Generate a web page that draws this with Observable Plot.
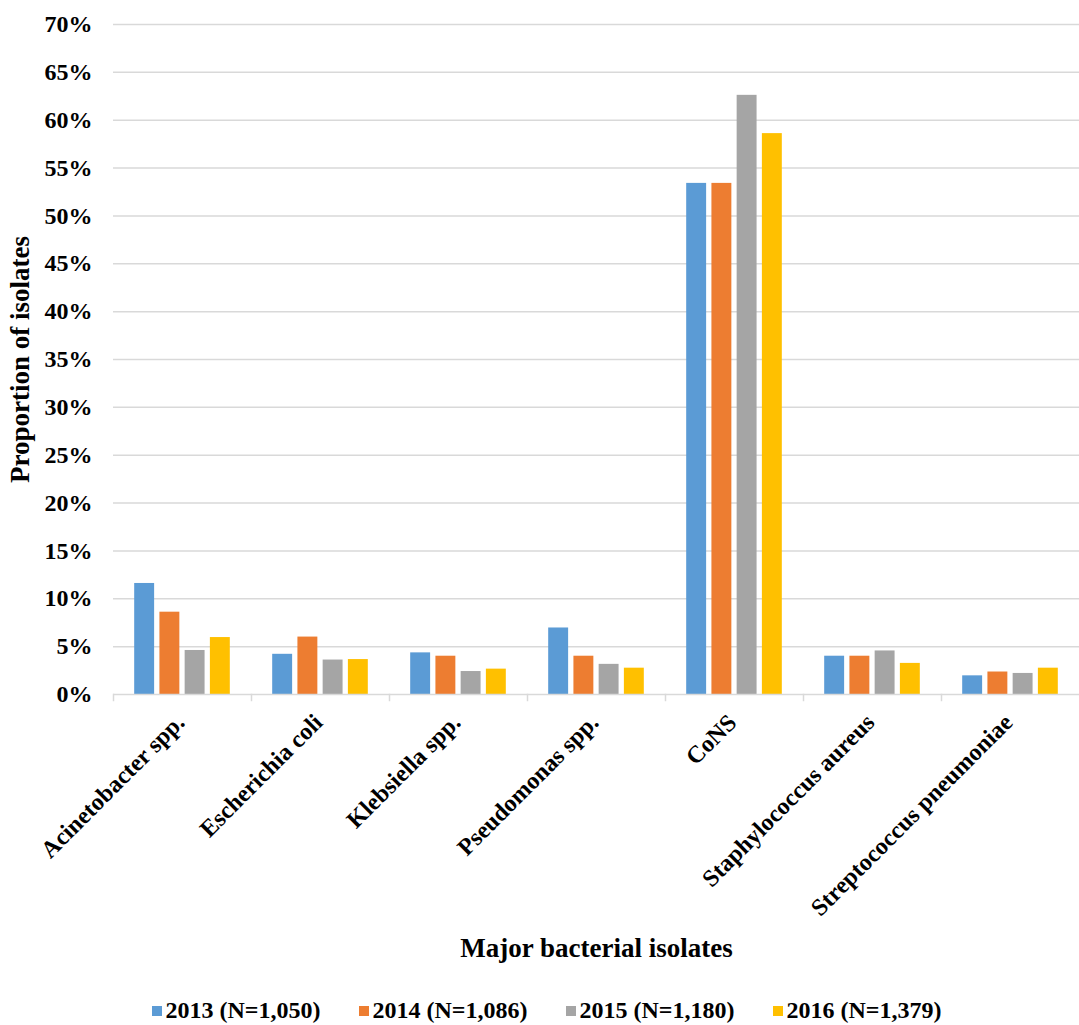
<!DOCTYPE html>
<html>
<head>
<meta charset="utf-8">
<script src="https://cdn.jsdelivr.net/npm/d3@7"></script>
<script src="https://cdn.jsdelivr.net/npm/@observablehq/plot@0.6"></script>
<style>
  html, body { margin: 0; padding: 0; background: #fff; }
  body { width: 1079px; font-family: "Liberation Serif", "Times New Roman", serif; }
  #legend {
    display: flex; justify-content: center; align-items: center;
    gap: 38px; padding-top: 32px; padding-left: 14px;
    font-weight: bold; font-size: 24px; color: #000;
  }
  #legend .item { display: flex; align-items: center; gap: 4px; }
  #legend .sw { width: 10px; height: 10px; display: inline-block; }
</style>
</head>
<body>
<div id="chart"></div>
<div id="legend"></div>
<script>
// Bacterial isolate categories along the horizontal axis
const categories = [
  "Acinetobacter spp.",
  "Escherichia coli",
  "Klebsiella spp.",
  "Pseudomonas spp.",
  "CoNS",
  "Staphylococcus aureus",
  "Streptococcus pneumoniae"
];

// Series (one per year) and their colours
const years = ["2013 (N=1,050)", "2014 (N=1,086)", "2015 (N=1,180)", "2016 (N=1,379)"];
const colors = ["#5B9BD5", "#ED7D31", "#A5A5A5", "#FFC000"];

// Proportion of isolates (%) per category, one array per year
const v2013 = [11.6, 4.2, 4.35, 6.95, 53.4, 4.0, 1.95];
const v2014 = [8.6, 6.0, 4.0, 4.0, 53.4, 4.0, 2.35];
const v2015 = [4.6, 3.6, 2.4, 3.15, 62.6, 4.55, 2.2];
const v2016 = [5.95, 3.65, 2.65, 2.75, 58.6, 3.25, 2.75];

// Y-axis ticks (every 5%)
const yTicks = d3.range(0, 71, 5);

const seriesValues = [v2013, v2014, v2015, v2016];
const rows = [];
categories.forEach((cat, i) => {
  years.forEach((yr, j) => rows.push({cat, year: yr, value: seriesValues[j][i]}));
});

const W = 1079, H = 965, MT = 24, MB = 271;
const innerH = H - MT - MB;

const chart = Plot.plot({
  width: W,
  height: H,
  marginLeft: 113,
  marginRight: 0,
  marginTop: MT,
  marginBottom: MB,
  style: {fontFamily: '"Liberation Serif", "Times New Roman", serif', color: "#000", background: "#fff"},
  fx: {domain: categories, padding: 0, round: false},
  x: {domain: years, paddingInner: 0.21, paddingOuter: 0.84, round: false, axis: null},
  y: {domain: [0, 70]},
  color: {domain: years, range: colors},
  marks: [
    Plot.gridY(yTicks.filter(d => d > 0), {stroke: "#d9d9d9", strokeOpacity: 1, strokeWidth: 1.5}),
    Plot.barY(rows, {fx: "cat", x: "year", y: "value", fill: "year"}),
    Plot.ruleY([0], {stroke: "#d9d9d9", strokeWidth: 1.5}),
    // short category separator ticks below the baseline
    Plot.frame({anchor: "left", stroke: "#d9d9d9", strokeWidth: 1.5, insetTop: innerH, insetBottom: -6}),
    Plot.axisY(yTicks, {
      tickSize: 0, tickPadding: 21, tickFormat: d => d + "%",
      fontSize: 24, fontWeight: "bold",
      label: "Proportion of isolates", labelAnchor: "center", labelArrow: "none", labelOffset: 104
    }),
    Plot.axisFx({
      anchor: "bottom",
      tickSize: 0, tickRotate: -45, tickPadding: 24, dx: -2,
      fontSize: 24, fontWeight: "bold",
      label: "Major bacterial isolates", labelAnchor: "center", labelArrow: "none", labelOffset: 262
    })
  ]
});

// Axis titles are a little larger than tick labels
d3.select(chart).selectAll("[aria-label='y-axis label'] text, [aria-label='fx-axis label'] text")
  .style("font-size", "27px");

document.getElementById("chart").appendChild(chart);

// Legend below the chart
const legend = d3.select("#legend");
years.forEach((yr, j) => {
  const it = legend.append("div").attr("class", "item");
  it.append("span").attr("class", "sw").style("background", colors[j]);
  it.append("span").text(yr);
});
</script>
</body>
</html>
